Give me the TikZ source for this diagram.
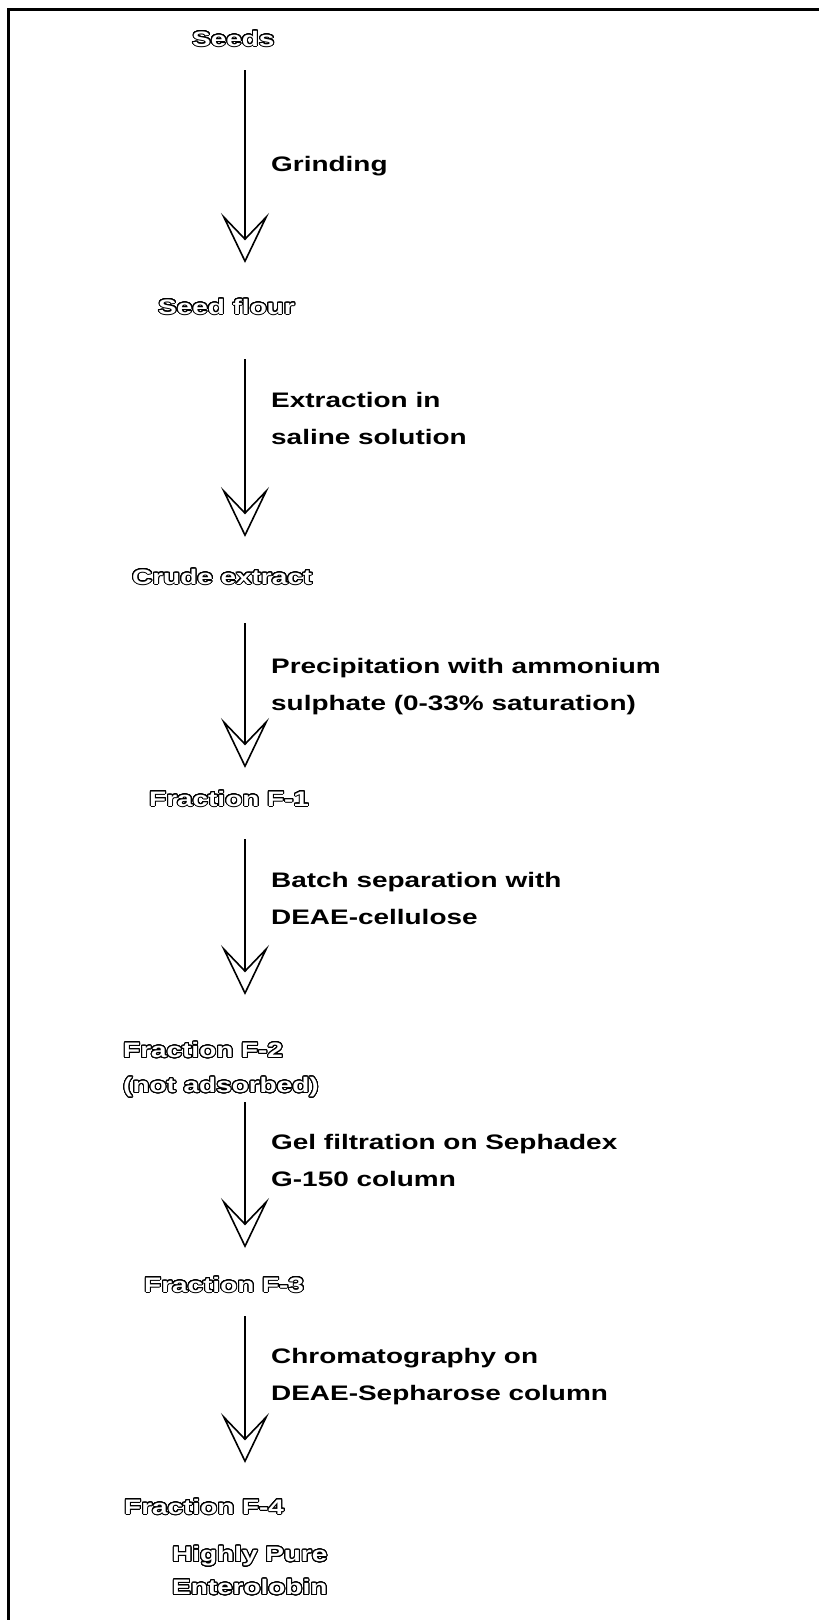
\documentclass[tikz,border=0pt]{standalone}
\usepackage{fontspec}
\usepackage{contour}
\usetikzlibrary{arrows.meta}
\newfontfamily\labfont{Liberation Sans}[FakeStretch=1.33]
\contourlength{1.0pt}
\contournumber{32}
\newcommand\outl[1]{\contour{black}{\textcolor{white}{#1}}}
\tikzset{
  stage/.style={anchor=west, inner sep=0pt, align=left, font={\labfont\bfseries\fontsize{21pt}{35pt}\selectfont}},
  proc/.style={anchor=west, inner sep=0pt, align=left, font={\labfont\bfseries\fontsize{21pt}{37pt}\selectfont}},
  flow/.style={line width=2.6pt, -{Stealth[length=50pt, width=48pt, inset=25pt, fill=white, line width=1.6pt]}},
  frame/.style={line width=3pt}
}
\begin{document}
\begin{tikzpicture}[x=1pt, y=-1pt]
\useasboundingbox (0,0) rectangle (819,1620);
% frame
\coordinate (fa) at (8,1620);
\coordinate (fb) at (8,9);
\coordinate (fc) at (819,9);
\draw[frame] (fa) -- (fb) -- (fc);
% stages
\node[stage] (seeds) at (192,39) {\outl{Seeds}};
\node[stage] (flour) at (158,307) {\outl{Seed flour}};
\node[stage] (crude) at (132,577) {\outl{Crude extract}};
\node[stage] (f1) at (149,799) {\outl{Fraction F-1}};
\node[stage] (f2) at (123,1070) {\outl{Fraction F-2}\\\outl{(not adsorbed)}};
\node[stage] (f3) at (144,1285) {\outl{Fraction F-3}};
\node[stage] (f4) at (124,1507) {\outl{Fraction F-4}};
\node[stage] (pure) at (172,1571) {\outl{Highly Pure}\\[-2pt]\outl{Enterolobin}};
% processes
\node[proc] (p1) at (271,166) {Grinding};
\node[proc] (p2) at (271,418) {Extraction in\\saline solution};
\node[proc] (p3) at (271,687) {Precipitation with ammonium\\sulphate (0-33\% saturation)};
\node[proc] (p4) at (271,898) {Batch separation with\\DEAE-cellulose};
\node[proc] (p5) at (271,1160) {Gel filtration on Sephadex\\G-150 column};
\node[proc] (p6) at (271,1377) {Chromatography on\\DEAE-Sepharose column};
% arrows
\coordinate (a1s) at (245,70);   \coordinate (a1e) at (245,263);
\coordinate (a2s) at (245,359);  \coordinate (a2e) at (245,537);
\coordinate (a3s) at (245,623);  \coordinate (a3e) at (245,768);
\coordinate (a4s) at (245,839);  \coordinate (a4e) at (245,995);
\coordinate (a5s) at (245,1102); \coordinate (a5e) at (245,1248);
\coordinate (a6s) at (245,1316); \coordinate (a6e) at (245,1463);
\draw[flow] (a1s) -- (a1e);
\draw[flow] (a2s) -- (a2e);
\draw[flow] (a3s) -- (a3e);
\draw[flow] (a4s) -- (a4e);
\draw[flow] (a5s) -- (a5e);
\draw[flow] (a6s) -- (a6e);
\end{tikzpicture}
\end{document}
